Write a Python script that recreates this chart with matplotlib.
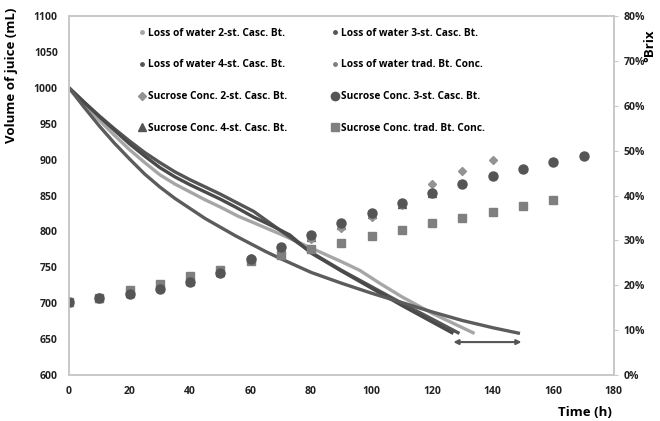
import numpy as np
import matplotlib
matplotlib.use('Agg')
import matplotlib.pyplot as plt
from matplotlib.lines import Line2D

plt.rcParams['font.family'] = ['Open Sans', 'DejaVu Sans']
plt.rcParams['font.weight'] = 'bold'

'''
loss of water (mL), left axis
'''
t_2st = [0, 5, 10, 15, 20, 25, 30, 35, 40, 45, 50, 56, 60, 70, 80, 90, 96, 103, 110, 120, 127, 134]
w_2st = [1000, 977, 955, 934, 914, 896, 879, 866, 855, 844, 834, 821, 814, 796, 777, 758, 746, 727, 709, 686, 672, 658]
t_3st = [0, 5, 10, 15, 20, 25, 30, 35, 40, 45, 50, 55, 61, 70, 80, 90, 100, 110, 120, 129]
w_3st = [1000, 980, 961, 943, 926, 910, 896, 883, 872, 862, 852, 841, 828, 801, 771, 746, 723, 700, 678, 658]
t_4st = [0, 5, 10, 15, 20, 25, 30, 35, 40, 45, 50, 55, 61, 67, 73, 80, 90, 100, 110, 120, 127]
w_4st = [1000, 980, 960, 941, 922, 905, 889, 876, 865, 855, 845, 834, 820, 808, 795, 770, 745, 721, 697, 674, 658]
t_trad = [0, 5, 10, 15, 20, 25, 30, 35, 40, 45, 50, 55, 60, 65, 70, 80, 90, 100, 110, 120, 130, 140, 149]
w_trad = [1000, 973, 947, 923, 901, 880, 862, 846, 832, 818, 806, 794, 783, 772, 762, 743, 728, 714, 701, 688, 676, 666, 658]

'''
sucrose conc (%), right axis
'''
s_t = [0, 10, 20, 30, 40, 50, 60, 70, 80, 90, 100, 110, 120, 130, 140, 150, 160, 170]
s_2st = [16.2, 17.3, 18.2, 19.4, 21.0, 23.0, 25.6, 28.1, 30.4, 32.8, 35.3, 38.0, 42.5, 45.4, 48.0]
s_3st = [16.2, 17.2, 18.0, 19.2, 20.8, 22.8, 25.8, 28.6, 31.2, 33.9, 36.2, 38.4, 40.6, 42.5, 44.4, 46.0, 47.5, 48.8]
s_4st = [16.2, 17.2, 18.3, 19.6, 21.0, 23.0, 26.0, 28.3, 30.8, 33.5, 36.0, 38.2, 40.5]
s_trad = [16.3, 17.1, 18.9, 20.4, 22.0, 23.5, 25.4, 26.7, 28.1, 29.5, 31.0, 32.3, 33.8, 35.1, 36.4, 37.6, 39.0]

c_light = '#a6a6a6'
c_dark = '#555555'
c_mid = '#7f7f7f'
c_dark2 = '#4a4a4a'

fig = plt.figure(figsize=(6.6, 4.21), dpi=100)
ax = fig.add_axes([0.1045, 0.109, 0.8255, 0.853])
ax2 = ax.twinx()

ax.plot(t_2st, w_2st, color=c_light, lw=2.4, solid_capstyle='butt')
ax.plot(t_3st, w_3st, color=c_dark, lw=2.4, solid_capstyle='butt')
ax.plot(t_4st, w_4st, color=c_dark2, lw=2.4, solid_capstyle='butt')
ax.plot(t_trad, w_trad, color='#5c5c5c', lw=2.4, solid_capstyle='butt')

ax.annotate('', xy=(127, 646), xytext=(149.5, 646),
            arrowprops=dict(arrowstyle='<|-|>', color='#555555', lw=1.5,
                            mutation_scale=7, shrinkA=0, shrinkB=0))

ax2.plot(s_t[:len(s_4st)], s_4st, '^', color=c_dark, ms=6, ls='none')
ax2.plot(s_t[:len(s_2st)], s_2st, 'D', color='#939393', ms=4.5, ls='none')
ax2.plot(s_t[:len(s_trad)], s_trad, 's', color=c_mid, ms=6, ls='none')
ax2.plot(s_t, s_3st, 'o', color=c_dark, ms=6.5, ls='none')

ax.set_xlim(0, 180)
ax.set_ylim(600, 1100)
ax2.set_ylim(0, 80)
ax.set_xticks(np.arange(0, 181, 20))
ax.set_yticks(np.arange(600, 1101, 50))
ax2.set_yticks(np.arange(0, 81, 10))
ax2.set_yticklabels(['%d%%' % v for v in range(0, 81, 10)])

for a in (ax, ax2):
    for s in a.spines.values():
        s.set_color('#c8c8c8')
        s.set_linewidth(1.2)
ax.tick_params(axis='both', length=0, labelsize=7.5, colors='#222222', pad=8)
ax2.tick_params(axis='y', length=3, color='#c8c8c8', labelsize=7.5, colors='#222222', pad=4)
ax.tick_params(axis='x', pad=8)

ax.set_ylabel('Volume of juice (mL)', fontsize=9.5, fontweight='bold')
ax.yaxis.set_label_coords(-0.093, 0.835)
fig.text(0.927, 0.004, 'Time (h)', fontsize=9.5, fontweight='bold', ha='right', va='bottom')
fig.text(0.984, 0.93, '°Brix', fontsize=9.5, fontweight='bold', rotation=90,
         ha='center', va='top')

handles = [
    Line2D([], [], marker='o', ms=2.5, ls='none', color=c_light),
    Line2D([], [], marker='o', ms=2.5, ls='none', color=c_dark),
    Line2D([], [], marker='D', ms=4.5, ls='none', color='#939393'),
    Line2D([], [], marker='^', ms=5.5, ls='none', color=c_dark),
    Line2D([], [], marker='o', ms=2.5, ls='none', color=c_dark),
    Line2D([], [], marker='o', ms=2.5, ls='none', color=c_mid),
    Line2D([], [], marker='o', ms=6, ls='none', color=c_dark),
    Line2D([], [], marker='s', ms=5.5, ls='none', color=c_mid),
]
labels = ['Loss of water 2-st. Casc. Bt.', 'Loss of water 4-st. Casc. Bt.',
          'Sucrose Conc. 2-st. Casc. Bt.', 'Sucrose Conc. 4-st. Casc. Bt.',
          'Loss of water 3-st. Casc. Bt.', 'Loss of water trad. Bt. Conc.',
          'Sucrose Conc. 3-st. Casc. Bt.', 'Sucrose Conc. trad. Bt. Conc.']
leg = ax2.legend(handles, labels, ncol=2, loc='upper left', bbox_to_anchor=(0.112, 0.993),
                 frameon=False, handlelength=0.6, handletextpad=0.3,
                 labelspacing=2.05, columnspacing=4.4, prop={'weight': 'bold', 'size': 7.3})

fig.savefig('out.png', dpi=100)
